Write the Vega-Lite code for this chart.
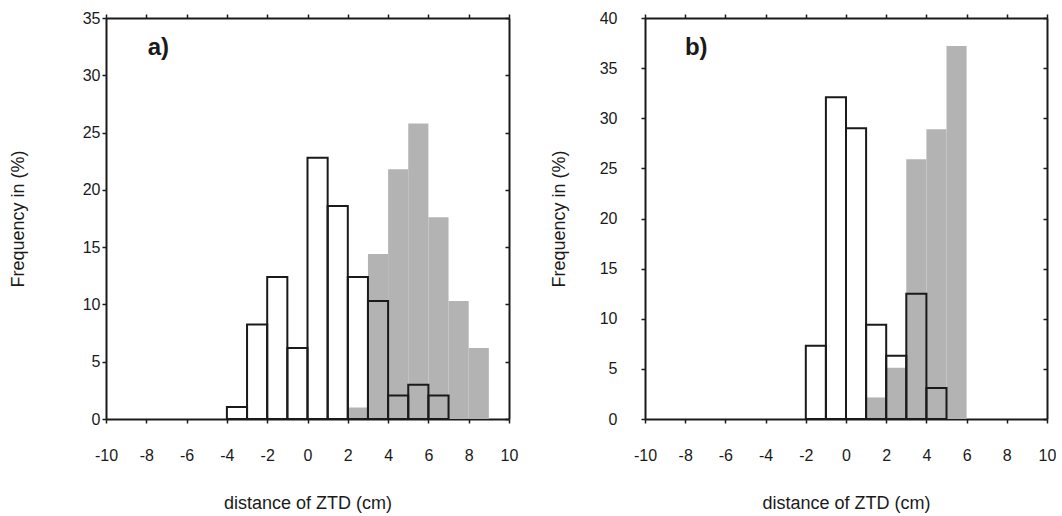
{
  "$schema": "https://vega.github.io/schema/vega-lite/v6.json",
  "padding": {"left": 9, "top": 10, "right": 0, "bottom": 2},
  "background": "white",
  "config": {
    "view": {"stroke": null},
    "font": "Liberation Sans",
    "axis": {
      "domainColor": "#1a1a1a", "domainWidth": 2, "tickColor": "#1a1a1a", "tickWidth": 1.5, "tickSize": 4,
      "grid": false, "labelFont": "Liberation Sans", "labelFontSize": 16, "labelColor": "#1a1a1a", "labelFlush": false, "labelOverlap": false,
      "titleFont": "Liberation Sans", "titleFontSize": 18, "titleFontWeight": "normal", "titleColor": "#1a1a1a"
    }
  },
  "datasets": {
    "bars": [
      {"panel": "a", "series": "gray", "lo": 2, "hi": 3, "freq": 1.0},
      {"panel": "a", "series": "gray", "lo": 3, "hi": 4, "freq": 14.4},
      {"panel": "a", "series": "gray", "lo": 4, "hi": 5, "freq": 21.8},
      {"panel": "a", "series": "gray", "lo": 5, "hi": 6, "freq": 25.8},
      {"panel": "a", "series": "gray", "lo": 6, "hi": 7, "freq": 17.6},
      {"panel": "a", "series": "gray", "lo": 7, "hi": 8, "freq": 10.3},
      {"panel": "a", "series": "gray", "lo": 8, "hi": 9, "freq": 6.2},
      {"panel": "a", "series": "white", "lo": -4, "hi": -3, "freq": 1.05},
      {"panel": "a", "series": "white", "lo": -3, "hi": -2, "freq": 8.25},
      {"panel": "a", "series": "white", "lo": -2, "hi": -1, "freq": 12.4},
      {"panel": "a", "series": "white", "lo": -1, "hi": 0, "freq": 6.2},
      {"panel": "a", "series": "white", "lo": 0, "hi": 1, "freq": 22.8},
      {"panel": "a", "series": "white", "lo": 1, "hi": 2, "freq": 18.6},
      {"panel": "a", "series": "white", "lo": 2, "hi": 3, "freq": 12.4},
      {"panel": "a", "series": "white", "lo": 3, "hi": 4, "freq": 10.3},
      {"panel": "a", "series": "white", "lo": 4, "hi": 5, "freq": 2.05},
      {"panel": "a", "series": "white", "lo": 5, "hi": 6, "freq": 3.0},
      {"panel": "a", "series": "white", "lo": 6, "hi": 7, "freq": 2.05},
      {"panel": "b", "series": "gray", "lo": 1, "hi": 2, "freq": 2.15},
      {"panel": "b", "series": "gray", "lo": 2, "hi": 3, "freq": 5.1},
      {"panel": "b", "series": "gray", "lo": 3, "hi": 4, "freq": 25.9},
      {"panel": "b", "series": "gray", "lo": 4, "hi": 5, "freq": 28.9},
      {"panel": "b", "series": "gray", "lo": 5, "hi": 6, "freq": 37.2},
      {"panel": "b", "series": "white", "lo": -2, "hi": -1, "freq": 7.3},
      {"panel": "b", "series": "white", "lo": -1, "hi": 0, "freq": 32.1},
      {"panel": "b", "series": "white", "lo": 0, "hi": 1, "freq": 29.0},
      {"panel": "b", "series": "white", "lo": 1, "hi": 2, "freq": 9.4},
      {"panel": "b", "series": "white", "lo": 2, "hi": 3, "freq": 6.3},
      {"panel": "b", "series": "white", "lo": 3, "hi": 4, "freq": 12.5},
      {"panel": "b", "series": "white", "lo": 4, "hi": 5, "freq": 3.1}
    ],
    "labels": [
      {"panel": "a", "text": "a)", "x": -7.4, "y": 32.4},
      {"panel": "b", "text": "b)", "x": -7.45, "y": 37.0}
    ]
  },
  "spacing": 32,
  "hconcat": [
    {
      "width": 403, "height": 401,
      "resolve": {"axis": {"x": "independent", "y": "independent"}},
      "layer": [
        {
          "data": {"name": "bars"},
          "transform": [{"filter": "datum.panel == 'a' && datum.series == 'gray'"}],
          "mark": {"type": "rect", "fill": "#b3b3b3"},
          "encoding": {
            "x": {"field": "lo", "type": "quantitative", "scale": {"domain": [-10, 10], "nice": false},
              "axis": {"orient": "bottom", "values": [-10, -8, -6, -4, -2, 0, 2, 4, 6, 8, 10], "labelExpr": "'' + datum.value", "labelPadding": 24, "title": "distance of ZTD (cm)", "titlePadding": 31}},
            "x2": {"field": "hi"},
            "y": {"field": "freq", "type": "quantitative", "scale": {"domain": [0, 35], "nice": false},
              "axis": {"orient": "left", "values": [0, 5, 10, 15, 20, 25, 30, 35], "labelPadding": 2, "title": "Frequency in (%)", "titlePadding": 55}},
            "y2": {"datum": 0}
          }
        },
        {
          "data": {"name": "bars"},
          "transform": [{"filter": "datum.panel == 'a' && datum.series == 'white'"}],
          "mark": {"type": "rect", "fill": "white", "fillOpacity": 0, "stroke": "#1a1a1a", "strokeWidth": 2},
          "encoding": {
            "x": {"field": "lo", "type": "quantitative",
              "axis": {"orient": "top", "values": [-10, -8, -6, -4, -2, 0, 2, 4, 6, 8, 10], "labels": false, "title": null}},
            "x2": {"field": "hi"},
            "y": {"field": "freq", "type": "quantitative",
              "axis": {"orient": "right", "values": [0, 5, 10, 15, 20, 25, 30, 35], "labels": false, "tickSize": -4, "title": null}},
            "y2": {"datum": 0}
          }
        },
        {
          "data": {"name": "labels"},
          "transform": [{"filter": "datum.panel == 'a'"}],
          "mark": {"type": "text", "fontSize": 24, "fontWeight": "bold", "font": "Liberation Sans", "color": "#1a1a1a", "align": "center", "baseline": "middle"},
          "encoding": {
            "x": {"field": "x", "type": "quantitative", "axis": null},
            "y": {"field": "y", "type": "quantitative", "axis": null},
            "text": {"field": "text"}
          }
        }
      ]
    },
    {
      "width": 402, "height": 401,
      "resolve": {"axis": {"x": "independent", "y": "independent"}},
      "layer": [
        {
          "data": {"name": "bars"},
          "transform": [{"filter": "datum.panel == 'b' && datum.series == 'gray'"}],
          "mark": {"type": "rect", "fill": "#b3b3b3"},
          "encoding": {
            "x": {"field": "lo", "type": "quantitative", "scale": {"domain": [-10, 10], "nice": false},
              "axis": {"orient": "bottom", "values": [-10, -8, -6, -4, -2, 0, 2, 4, 6, 8, 10], "labelExpr": "'' + datum.value", "labelPadding": 24, "title": "distance of ZTD (cm)", "titlePadding": 31}},
            "x2": {"field": "hi"},
            "y": {"field": "freq", "type": "quantitative", "scale": {"domain": [0, 40], "nice": false},
              "axis": {"orient": "left", "values": [0, 5, 10, 15, 20, 25, 30, 35, 40], "labelPadding": 24, "title": "Frequency in (%)", "titlePadding": 31}},
            "y2": {"datum": 0}
          }
        },
        {
          "data": {"name": "bars"},
          "transform": [{"filter": "datum.panel == 'b' && datum.series == 'white'"}],
          "mark": {"type": "rect", "fill": "white", "fillOpacity": 0, "stroke": "#1a1a1a", "strokeWidth": 2},
          "encoding": {
            "x": {"field": "lo", "type": "quantitative",
              "axis": {"orient": "top", "values": [-10, -8, -6, -4, -2, 0, 2, 4, 6, 8, 10], "labels": false, "title": null}},
            "x2": {"field": "hi"},
            "y": {"field": "freq", "type": "quantitative",
              "axis": {"orient": "right", "values": [0, 5, 10, 15, 20, 25, 30, 35, 40], "labels": false, "tickSize": -4, "title": null}},
            "y2": {"datum": 0}
          }
        },
        {
          "data": {"name": "labels"},
          "transform": [{"filter": "datum.panel == 'b'"}],
          "mark": {"type": "text", "fontSize": 24, "fontWeight": "bold", "font": "Liberation Sans", "color": "#1a1a1a", "align": "center", "baseline": "middle"},
          "encoding": {
            "x": {"field": "x", "type": "quantitative", "axis": null},
            "y": {"field": "y", "type": "quantitative", "axis": null},
            "text": {"field": "text"}
          }
        }
      ]
    }
  ]
}
